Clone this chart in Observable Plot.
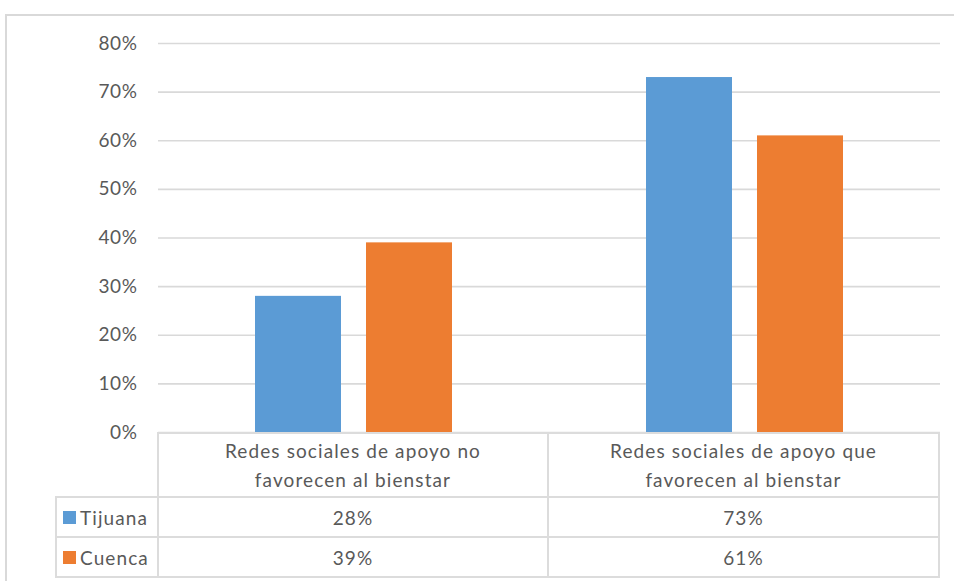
<!DOCTYPE html>
<html>
<head>
<meta charset="utf-8">
<script src="https://cdn.jsdelivr.net/npm/d3@7"></script>
<script src="https://cdn.jsdelivr.net/npm/@observablehq/plot@0.6"></script>
<style>
  html, body { margin: 0; padding: 0; background: #fff; }
  #wrap { position: relative; width: 954px; height: 581px; overflow: hidden; font-family: Lato, "Open Sans", sans-serif; color: #595959; }
  #frame { position: absolute; left: 5px; top: 14px; width: 1000px; height: 700px; border: 2px solid #d9d9d9; box-sizing: border-box; }
  #chart { position: absolute; left: 0; top: 0; }
  #table { position: absolute; left: 55px; top: 432px; display: grid; grid-template-columns: 104px 390px 391px; grid-template-rows: 66px 40px 40px; font-size: 19px; letter-spacing: 1.1px; }
  #table div.cell { box-sizing: border-box; border-right: 2px solid #dcdcdc; border-bottom: 2px solid #dcdcdc; display: flex; align-items: center; justify-content: center; text-align: center; }
  #table div.head { border-top: 2px solid #dcdcdc; line-height: 29px; white-space: pre-line; }
  #table div.leg { border-left: 2px solid #dcdcdc; justify-content: flex-start; padding-left: 6px; }
  #table div.blank { border-bottom: 2px solid #dcdcdc; }
  .sw { display: inline-block; width: 13px; height: 13px; margin-right: 4px; }
</style>
</head>
<body>
<div id="wrap">
  <div id="frame"></div>
  <div id="chart"></div>
  <div id="table"></div>
</div>
<script>
const categories = ["Redes sociales de apoyo no\nfavorecen al bienstar", "Redes sociales de apoyo que\nfavorecen al bienstar"];
const seriesNames = ["Tijuana", "Cuenca"];
const tijuana = [0.28, 0.73];
const cuenca = [0.39, 0.61];
const seriesColors = ["#5b9bd5", "#ed7d31"];
const yTicks = [0, 0.1, 0.2, 0.3, 0.4, 0.5, 0.6, 0.7, 0.8];

const seriesValues = [tijuana, cuenca];
const data = [];
categories.forEach((c, i) => {
  seriesNames.forEach((s, j) => data.push({category: c, series: s, value: seriesValues[j][i]}));
});
const fmt = d3.format(".0%");

const plot = Plot.plot({
  width: 954,
  height: 436,
  marginLeft: 158,
  marginRight: 14,
  marginTop: 43,
  marginBottom: 4,
  style: { fontFamily: "Lato, 'Open Sans', sans-serif", fontSize: "19px", color: "#595959", background: "transparent", overflow: "visible", letterSpacing: "0.6px" },
  fx: { domain: categories, padding: 0, axis: null },
  x: { domain: seriesNames, paddingInner: 0.225, paddingOuter: 0.865, axis: null },
  y: { domain: [0, 0.8] },
  color: { domain: seriesNames, range: seriesColors },
  marks: [
    Plot.gridY(yTicks, { stroke: "#d9d9d9", strokeOpacity: 1, strokeWidth: 1.6 }),
    Plot.barY(data, { fx: "category", x: "series", y: "value", fill: "series" }),
    Plot.axisY(yTicks, { tickFormat: fmt, tickSize: 0, tickPadding: 21, label: null, fill: "#595959" })
  ]
});
document.getElementById("chart").appendChild(plot);

// data table below the plot
const table = d3.select("#table");
table.append("div").attr("class", "blank").style("border-right", "2px solid #dcdcdc");
categories.forEach(c => table.append("div").attr("class", "cell head").text(c));
seriesNames.forEach((s, j) => {
  const leg = table.append("div").attr("class", "cell leg");
  leg.append("span").attr("class", "sw").style("background", seriesColors[j]);
  leg.append("span").text(s);
  seriesValues[j].forEach(v => table.append("div").attr("class", "cell").text(fmt(v)));
});
</script>
</body>
</html>
